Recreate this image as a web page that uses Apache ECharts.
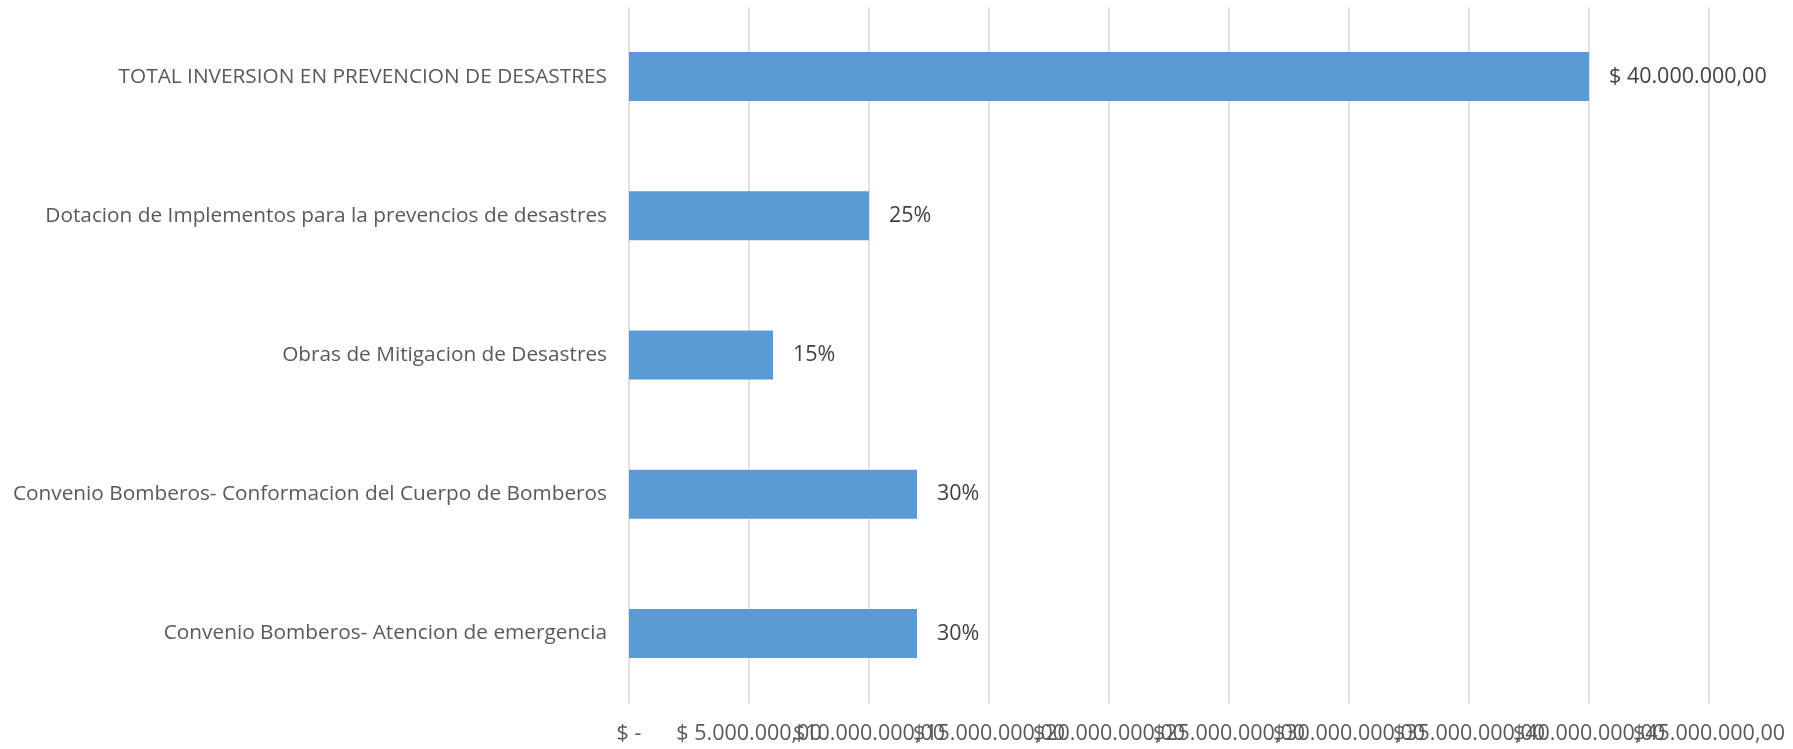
<!DOCTYPE html>
<html>
<head>
<meta charset="utf-8">
<script src="https://cdn.jsdelivr.net/npm/echarts@6/dist/echarts.min.js"></script>
<style>html,body{margin:0;padding:0;background:#fff}#c{width:1793px;height:749px}</style>
</head>
<body>
<div id="c"></div>
<script>
const categories = [
  "TOTAL INVERSION EN PREVENCION DE DESASTRES",
  "Dotacion de Implementos para la prevencios de desastres",
  "Obras de Mitigacion de Desastres",
  "Convenio Bomberos- Conformacion del Cuerpo de Bomberos",
  "Convenio Bomberos- Atencion de emergencia"
];
const values = [40000000, 10000000, 6000000, 12000000, 12000000];
const valueLabels = ["$ 40.000.000,00", "25%", "15%", "30%", "30%"];
const tickLabels = ["$ -", "$ 5.000.000,00", "$10.000.000,00", "$15.000.000,00", "$20.000.000,00",
  "$25.000.000,00", "$30.000.000,00", "$35.000.000,00", "$40.000.000,00", "$45.000.000,00"];

const STEP = 5000000;
function tickAxis(parity, showGrid) {
  return {
    type: 'value', min: 0, max: 45000000, interval: STEP, position: 'bottom',
    axisLine: { show: false }, axisTick: { show: false },
    splitLine: { show: showGrid, lineStyle: { color: '#d9d9d9', width: 1.5 } },
    axisLabel: {
      color: '#595959', fontSize: 21.5, margin: 20, hideOverlap: false,
      showMinLabel: true, showMaxLabel: true,
      formatter: function (v) {
        const i = Math.round(v / STEP);
        return (i % 2 === parity) ? tickLabels[i] : '';
      }
    }
  };
}

const chart = echarts.init(document.getElementById('c'));
chart.setOption({
  animation: false,
  textStyle: { fontFamily: 'Open Sans' },
  grid: { left: 629, right: 84, top: 7, bottom: 46, containLabel: false },
  xAxis: [tickAxis(0, true), tickAxis(1, false)],
  yAxis: {
    type: 'category', data: categories, inverse: true,
    axisLine: { show: false }, axisTick: { show: false },
    axisLabel: { color: '#595959', fontSize: 20.8, margin: 22 }
  },
  series: [{
    type: 'bar', data: values, barWidth: 49, xAxisIndex: 0,
    itemStyle: { color: '#5b9bd5' },
    label: {
      show: true, position: 'right', distance: 20, color: '#404040', fontSize: 21.5,
      formatter: function (p) { return valueLabels[p.dataIndex]; }
    }
  }]
});
</script>
</body>
</html>
